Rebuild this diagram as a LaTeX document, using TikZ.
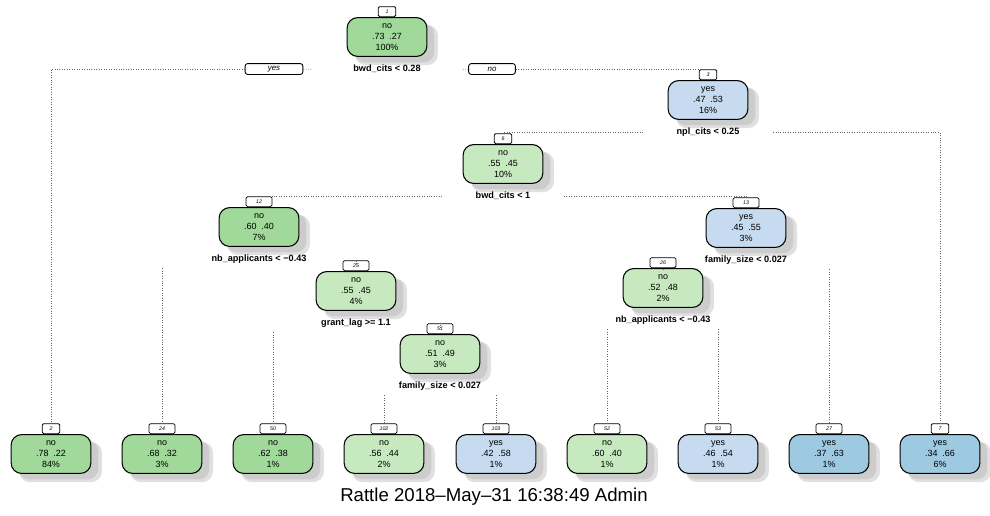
\documentclass[tikz,border=0pt]{standalone}
\usepackage{fontspec}
\setmainfont{Liberation Sans}
\usetikzlibrary{positioning,shadows}

\definecolor{grn}{HTML}{A1D99B}
\definecolor{lgrn}{HTML}{C7E9C0}
\definecolor{lblu}{HTML}{C6DBEF}
\definecolor{blu}{HTML}{9ECAE1}

\begin{document}
\begin{tikzpicture}[x=0.02cm,y=-0.02cm,
    box/.style={rectangle,draw,rounded corners=6pt,align=center,line width=0.6pt,
      font=\fontsize{5.1}{6.4}\selectfont,minimum width=45.4pt,minimum height=22.1pt,
      inner sep=0pt,
      drop shadow={shadow xshift=5.2pt,shadow yshift=-4.4pt,fill=black,opacity=0.12,shadow scale=1.04},
      drop shadow={shadow xshift=4.2pt,shadow yshift=-3.4pt,fill=black!27}},
    tag/.style={rectangle,draw,fill=white,rounded corners=0.8pt,line width=0.45pt,
      font=\fontsize{3}{3}\selectfont\itshape,minimum width=10pt,minimum height=5.7pt,
      inner sep=0pt},
    tagw/.style={tag,minimum width=14.7pt},
    split/.style={font=\fontsize{5.2}{6}\selectfont\bfseries,inner xsep=19pt,
      inner ysep=0pt,text height=3.8pt,text depth=1pt},
    yesno/.style={rectangle,draw,fill=white,rounded corners=1.5pt,line width=0.5pt,
      font=\fontsize{4.5}{5}\selectfont\itshape,minimum height=6.2pt,inner sep=0pt},
    branch/.style={densely dotted,line width=0.4pt,black!60},
    vbranch/.style={branch,shorten <=2.5pt}]
\fill[white] (0,0) rectangle (990,515);
\useasboundingbox (0,0) rectangle (990,515);

\node[box,fill=grn] (n1) at (387,37) {no\\.73\ \ .27\\100\%};
\node[tag,above=0pt of n1] (t1) {1};
\node[split,inner xsep=23.8pt,below=4.4pt of n1] (s1) {bwd\_cits < 0.28};
\node[yesno,minimum width=32.9pt] (yes) at (274,69) {yes};
\node[yesno,minimum width=26.6pt] (no) at (492,69) {no};

\node[box,fill=lblu] (n3) at (708,100) {yes\\.47\ \ .53\\16\%};
\node[tag,above=0pt of n3] (t3) {3};
\node[split,below=4.4pt of n3] (s3) {npl\_cits < 0.25};

\node[box,fill=lgrn] (n6) at (503,164) {no\\.55\ \ .45\\10\%};
\node[tag,above=0pt of n6] (t6) {6};
\node[split,below=4.4pt of n6] (s6) {bwd\_cits < 1};

\node[box,fill=grn] (n12) at (259,227) {no\\.60\ \ .40\\7\%};
\node[tagw,above=0pt of n12] (t12) {12};
\node[split,below=4.4pt of n12] (s12) {nb\_applicants < −0.43};

\node[box,fill=lblu] (n13) at (746,228) {yes\\.45\ \ .55\\3\%};
\node[tagw,above=0pt of n13] (t13) {13};
\node[split,below=4.4pt of n13] (s13) {family\_size < 0.027};

\node[box,fill=lgrn] (n25) at (356,291) {no\\.55\ \ .45\\4\%};
\node[tagw,above=0pt of n25] (t25) {25};
\node[split,below=4.4pt of n25] (s25) {grant\_lag >= 1.1};

\node[box,fill=lgrn] (n26) at (663,288) {no\\.52\ \ .48\\2\%};
\node[tagw,above=0pt of n26] (t26) {26};
\node[split,below=4.4pt of n26] (s26) {nb\_applicants < −0.43};

\node[box,fill=lgrn] (n51) at (440,354) {no\\.51\ \ .49\\3\%};
\node[tagw,above=0pt of n51] (t51) {51};
\node[split,below=4.4pt of n51] (s51) {family\_size < 0.027};

\node[box,fill=grn] (l2) at (51,454) {no\\.78\ \ .22\\84\%};
\node[tag,above=0pt of l2] (t2) {2};
\node[box,fill=grn] (l24) at (162,454) {no\\.68\ \ .32\\3\%};
\node[tagw,above=0pt of l24] (t24) {24};
\node[box,fill=grn] (l50) at (273,454) {no\\.62\ \ .38\\1\%};
\node[tagw,above=0pt of l50] (t50) {50};
\node[box,fill=lgrn] (l102) at (384,454) {no\\.56\ \ .44\\2\%};
\node[tagw,above=0pt of l102] (t102) {102};
\node[box,fill=lblu] (l103) at (496,454) {yes\\.42\ \ .58\\1\%};
\node[tagw,above=0pt of l103] (t103) {103};
\node[box,fill=lgrn] (l52) at (607,454) {no\\.60\ \ .40\\1\%};
\node[tagw,above=0pt of l52] (t52) {52};
\node[box,fill=lblu] (l53) at (718,454) {yes\\.46\ \ .54\\1\%};
\node[tagw,above=0pt of l53] (t53) {53};
\node[box,fill=blu] (l27) at (829,454) {yes\\.37\ \ .63\\1\%};
\node[tagw,above=0pt of l27] (t27) {27};
\node[box,fill=blu] (l7) at (940,454) {yes\\.34\ \ .66\\6\%};
\node[tag,above=0pt of l7] (t7) {7};

\draw[branch] (s1.west) -- (yes);
\draw[branch] (yes) -| (t2);
\draw[branch] (s1.east) -- (no);
\draw[branch] (no) -| (t3);
\draw[branch] (s3.west) -| (t6);
\draw[branch] (s3.east) -| (t7);
\draw[branch] (s6.west) -| (t12);
\draw[branch] (s6.east) -| (t13);
\draw[vbranch] (s12.south -| t24) -- (t24);
\draw[branch] (s12.south -| t25) -- (t25);
\draw[vbranch] (s13.south -| t26) -- (t26);
\draw[vbranch] (s13.south -| t27) -- (t27);
\draw[vbranch] (s25.south -| t50) -- (t50);
\draw[branch] (s25.south -| t51) -- (t51);
\draw[vbranch] (s26.south -| t52) -- (t52);
\draw[vbranch] (s26.south -| t53) -- (t53);
\draw[vbranch] (s51.south -| t102) -- (t102);
\draw[vbranch] (s51.south -| t103) -- (t103);

\node[font=\fontsize{10.6}{12}\selectfont] (stamp) at (494,497) {Rattle 2018–May–31 16:38:49 Admin};
\end{tikzpicture}
\end{document}
